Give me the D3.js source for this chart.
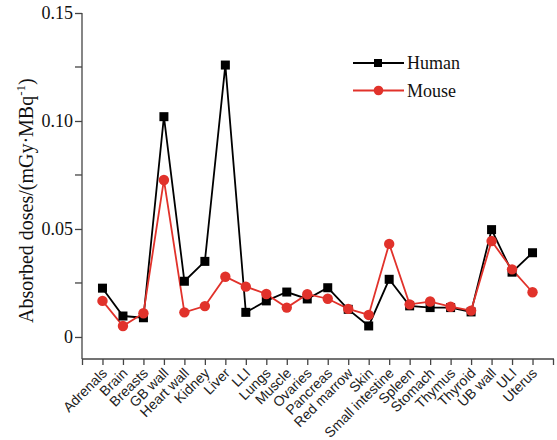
<!DOCTYPE html>
<html>
<head>
<meta charset="utf-8">
<script src="https://cdn.jsdelivr.net/npm/d3@7"></script>
<style>
  body { margin: 0; background: #fff; }
  svg { display: block; }
</style>
</head>
<body>
<svg id="chart" width="557" height="440"></svg>
<script>
var organs = ["Adrenals", "Brain", "Breasts", "GB wall", "Heart wall", "Kidney", "Liver", "LLI",
  "Lungs", "Muscle", "Ovaries", "Pancreas", "Red marrow", "Skin", "Small intestine", "Spleen",
  "Stomach", "Thymus", "Thyroid", "UB wall", "ULI", "Uterus"];
var human = [0.0226, 0.0097, 0.0089, 0.102, 0.0258, 0.035, 0.1259, 0.0114,
  0.0167, 0.0208, 0.0176, 0.0228, 0.0128, 0.0051, 0.0267, 0.0144,
  0.0136, 0.0136, 0.0116, 0.0497, 0.030, 0.039];
var mouse = [0.0167, 0.0051, 0.011, 0.0727, 0.0114, 0.0143, 0.0279, 0.0233,
  0.0199, 0.0136, 0.0198, 0.0177, 0.013, 0.0102, 0.0431, 0.0151,
  0.0164, 0.014, 0.0122, 0.0444, 0.0313, 0.0207];
var yTicks = [0, 0.05, 0.10, 0.15];
var yMinor = [0.025, 0.075, 0.125];
var seriesNames = ["Human", "Mouse"];

var svg = d3.select("#chart");
var x = d3.scaleLinear().domain([-1, organs.length]).range([82, 553]);
var y = d3.scaleLinear().domain([-0.0102, 0.15]).range([359, 13]);
var axisColor = "#444";
var red = "#e1322b";

// y axis
var yAxis = svg.append("g").attr("transform", "translate(82,0)")
  .call(d3.axisLeft(y).tickValues(yTicks).tickSize(7).tickPadding(2)
    .tickFormat(function (d) { return d === 0 ? "0" : d3.format(".2f")(d); }));
yAxis.select(".domain").remove();
yAxis.append("line").attr("x1", 0).attr("x2", 0).attr("y1", y(0.15)).attr("y2", 359)
  .attr("stroke", axisColor).attr("stroke-width", 1.3);
yAxis.selectAll(".tick line").attr("stroke", axisColor).attr("stroke-width", 1.3);
yAxis.selectAll(".tick text").attr("font-family", "'Liberation Serif', serif")
  .attr("font-size", 18).attr("fill", "#111");
yAxis.selectAll(".minor").data(yMinor).enter().append("line")
  .attr("x1", -7).attr("x2", 0)
  .attr("y1", function (d) { return y(d); }).attr("y2", function (d) { return y(d); })
  .attr("stroke", axisColor).attr("stroke-width", 1.3);

// x axis
var xAxis = svg.append("g").attr("transform", "translate(0,359)")
  .call(d3.axisBottom(x).tickValues(d3.range(-1, organs.length + 1)).tickSize(6)
    .tickFormat(function (d) { return organs[d] || ""; }));
xAxis.select(".domain").attr("stroke", axisColor).attr("stroke-width", 1.3)
  .attr("d", "M82,0H554");
xAxis.selectAll(".tick line").attr("stroke", axisColor).attr("stroke-width", 1.3);
xAxis.selectAll(".tick text")
  .attr("font-family", "'Liberation Sans', Arial, sans-serif")
  .attr("font-size", 14).attr("fill", "#222")
  .attr("text-anchor", "end")
  .attr("dy", null).attr("y", 0)
  .attr("transform", "translate(5,15) rotate(-45)");

// y title
svg.append("text")
  .attr("transform", "translate(33,323) rotate(-90)")
  .attr("text-anchor", "start")
  .attr("font-family", "'Liberation Serif', serif")
  .attr("font-size", 20).attr("fill", "#111")
  .html('Absorbed doses/(mGy·MBq<tspan dy="-8" font-size="13">-1</tspan><tspan dy="8">)</tspan>');

var line = d3.line()
  .x(function (d, i) { return x(i); })
  .y(function (d) { return y(d); });

svg.append("path").datum(human).attr("d", line)
  .attr("fill", "none").attr("stroke", "#000").attr("stroke-width", 1.8);
svg.append("path").datum(mouse).attr("d", line)
  .attr("fill", "none").attr("stroke", red).attr("stroke-width", 1.8);

svg.selectAll(".sq").data(human).enter().append("rect")
  .attr("class", "sq")
  .attr("x", function (d, i) { return x(i) - 4.5; })
  .attr("y", function (d) { return y(d) - 4.5; })
  .attr("width", 9).attr("height", 9).attr("fill", "#000");
svg.selectAll(".dot").data(mouse).enter().append("circle")
  .attr("class", "dot")
  .attr("cx", function (d, i) { return x(i); })
  .attr("cy", function (d) { return y(d); })
  .attr("r", 5.2).attr("fill", red);

// legend
var legend = svg.append("g").attr("transform", "translate(353,63)");
seriesNames.forEach(function (name, i) {
  var g = legend.append("g").attr("transform", "translate(0," + i * 27.5 + ")");
  g.append("line").attr("x1", 0).attr("x2", 51).attr("y1", 0).attr("y2", 0)
    .attr("stroke", i === 0 ? "#000" : red).attr("stroke-width", 1.8);
  if (i === 0) {
    g.append("rect").attr("x", 21).attr("y", -4).attr("width", 8).attr("height", 8).attr("fill", "#000");
  } else {
    g.append("circle").attr("cx", 25.5).attr("cy", 0).attr("r", 4.8).attr("fill", red);
  }
  g.append("text").attr("x", 54).attr("y", 6)
    .attr("font-family", "'Liberation Serif', serif")
    .attr("font-size", 18).attr("fill", "#111").text(name);
});
</script>
</body>
</html>
